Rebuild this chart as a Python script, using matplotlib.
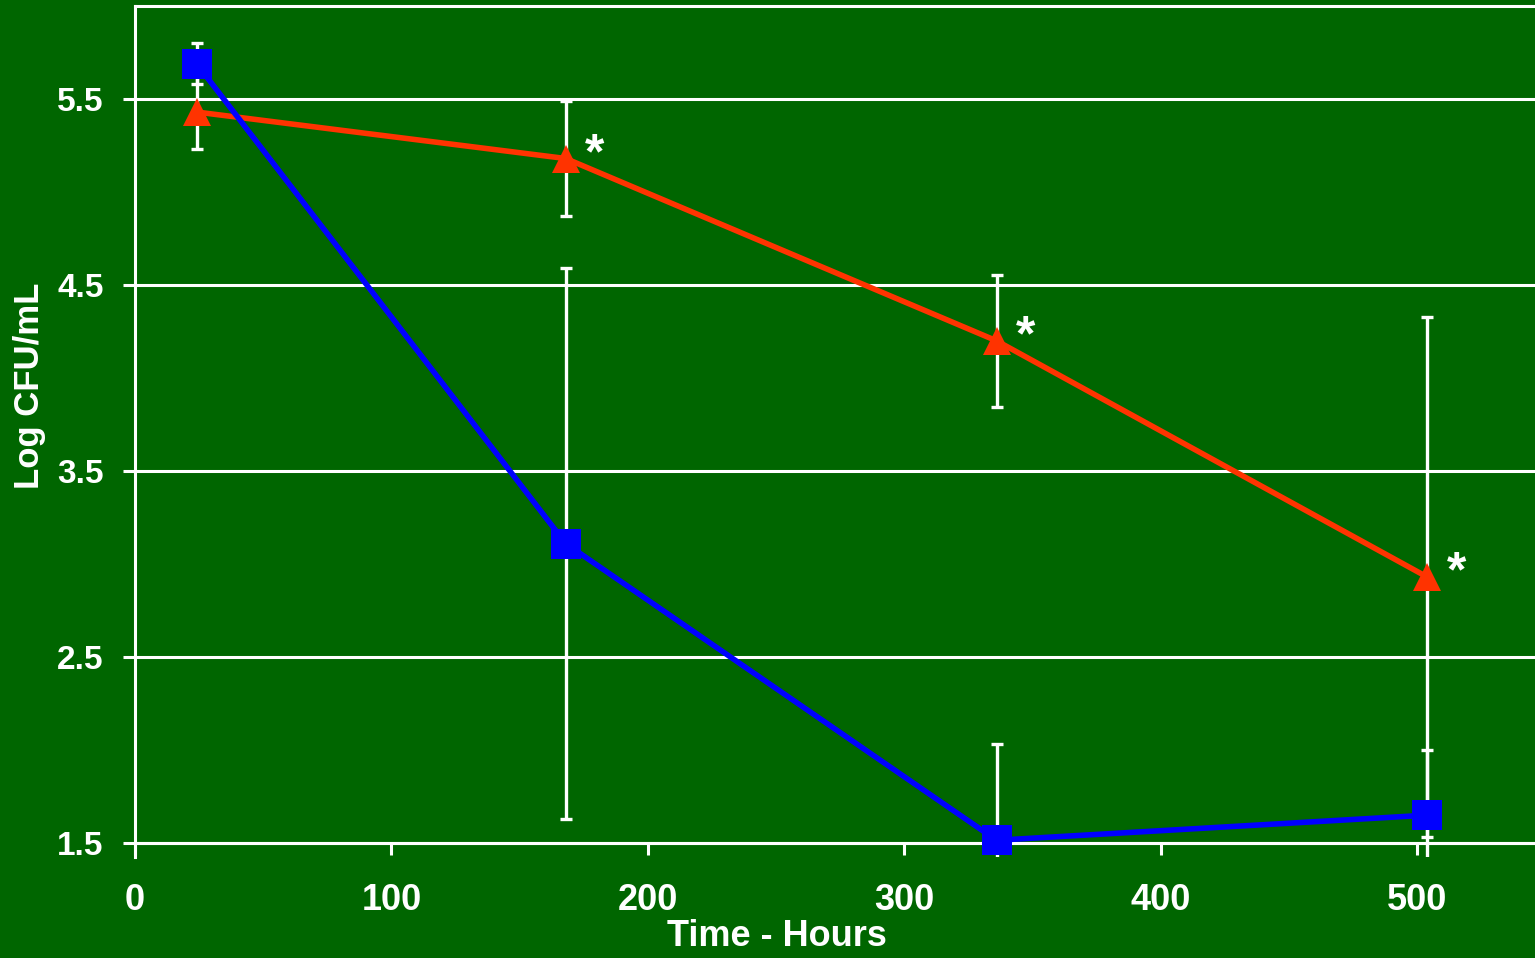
import matplotlib
matplotlib.use("Agg")
import matplotlib.pyplot as plt

# Survival over time, log CFU/mL (mean +/- SD)
hours = [24, 168, 336, 504]
red_vals = [5.43, 5.18, 4.20, 2.93]
red_err = [0.20, 0.31, 0.355, 1.40]
blue_vals = [5.69, 3.11, 1.515, 1.65]
blue_err = [0.11, 1.48, 0.52, 0.35]
starred = [168, 336, 504]

x_ticks = [0, 100, 200, 300, 400, 500]
y_ticks = [1.5, 2.5, 3.5, 4.5, 5.5]

green = "#006600"
plt.rcParams["font.family"] = ["Liberation Sans", "DejaVu Sans"]
plt.rcParams["font.weight"] = "bold"

fig = plt.figure(figsize=(15.35, 9.58), dpi=100, facecolor=green)
ax = fig.add_axes([135 / 1535, 1 - 857 / 958, 1400 / 1535, (857 - 6) / 958])
ax.set_facecolor(green)

ax.set_xlim(0, 546)
ax.set_ylim(1.425, 6.0)
ax.set_xticks(x_ticks)
ax.set_yticks(y_ticks)
ax.set_yticklabels([f"{v:.1f}" for v in y_ticks])

ax.grid(axis="y", color="white", lw=2.2, zorder=0)
ax.set_axisbelow(True)

for side in ["left", "top", "bottom"]:
    ax.spines[side].set_color("white")
    ax.spines[side].set_linewidth(2.2)
ax.spines["right"].set_visible(False)
ax.spines["bottom"].set_position(("data", 1.5))

ax.tick_params(axis="both", colors="white", width=2.2, length=8.6,
               direction="out")
ax.tick_params(axis="x", pad=20, labelsize=26)
ax.tick_params(axis="y", pad=14, labelsize=24)
for lab in ax.get_xticklabels() + ax.get_yticklabels():
    lab.set_fontweight("bold")

# error bars sit behind the lines and markers
ax.errorbar(hours, red_vals, yerr=red_err, fmt="none", ecolor="white",
            elinewidth=2.4, capsize=4.4, capthick=2.4, zorder=2)
ax.errorbar(hours, blue_vals, yerr=blue_err, fmt="none", ecolor="white",
            elinewidth=2.4, capsize=4.4, capthick=2.4, zorder=2)

ax.plot(hours, red_vals, color="#ff3300", lw=4, marker="^", ms=20,
        markeredgewidth=0, zorder=3)
ax.plot(hours, blue_vals, color="#0000ff", lw=4, marker="s", ms=22,
        markeredgewidth=0, zorder=4)

for h in starred:
    y = red_vals[hours.index(h)]
    ax.annotate("*", (h, y), xytext=(21, -7), textcoords="offset points",
                ha="center", va="baseline", color="white", fontsize=36,
                fontweight="bold")

fig.text(777 / 1535, 1 - 936 / 958, "Time - Hours", ha="center", va="center",
         color="white", fontsize=26, fontweight="bold")
fig.text(30 / 1535, 1 - 386 / 958, "Log CFU/mL", ha="center", va="center",
         rotation=90, color="white", fontsize=25, fontweight="bold")

fig.savefig("out.png", dpi=100, facecolor=green)
